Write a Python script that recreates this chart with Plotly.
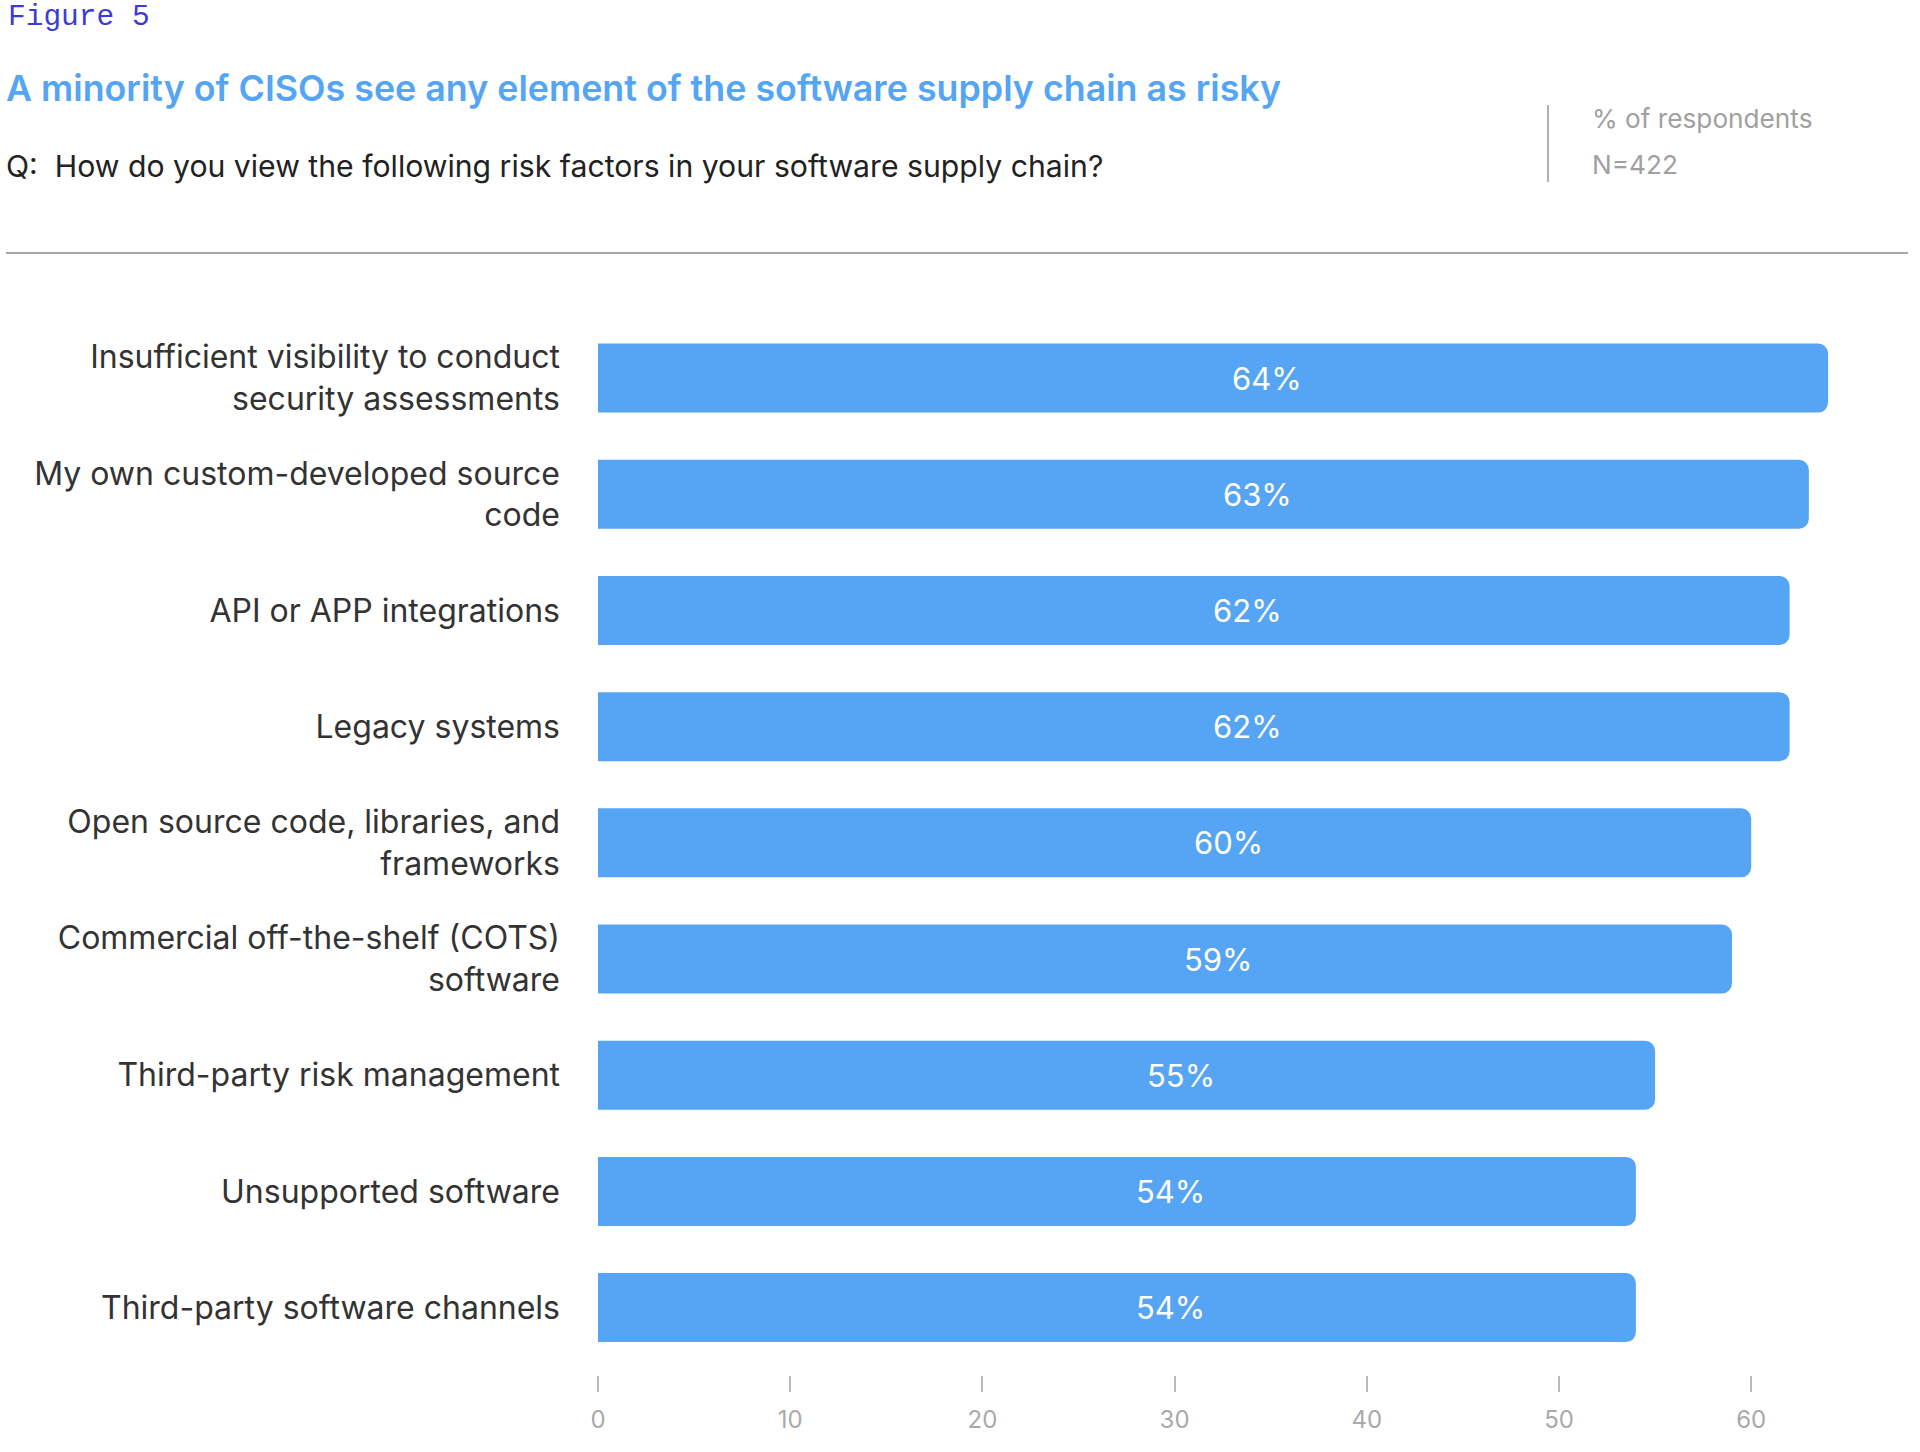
import plotly.graph_objects as go

categories = [
    "Insufficient visibility to conduct<br>security assessments",
    "My own custom-developed source<br>code",
    "API or APP integrations",
    "Legacy systems",
    "Open source code, libraries, and<br>frameworks",
    "Commercial off-the-shelf (COTS)<br>software",
    "Third-party risk management",
    "Unsupported software",
    "Third-party software channels",
]
values = [64, 63, 62, 62, 60, 59, 55, 54, 54]
x_ticks = [0, 10, 20, 30, 40, 50, 60]

W, H = 1920, 1452
ML, MR, MT, MB = 598, 20, 320, 77
PW, PH = W - ML - MR, H - MT - MB

def px(x):
    return (x - ML) / PW

def py(y):
    return (H - MB - y) / PH

BAR = "#56a5f5"
FONT = "Inter, 'Noto Sans', sans-serif"

fig = go.Figure()
fig.add_trace(go.Bar(
    x=values, y=categories, orientation="h",
    marker=dict(color=BAR, cornerradius=10, line=dict(width=0)),
    hoverinfo="skip",
))

annotations = []
for c, v in zip(categories, values):
    annotations.append(dict(
        x=v / 2, y=c, xref="x", yref="y", text=f"{v}%", showarrow=False,
        xshift=54, font=dict(family=FONT, size=31, color="white"),
        xanchor="center", yanchor="middle",
    ))

annotations += [
    dict(x=px(6), y=py(17), xref="paper", yref="paper", text="Figure 5",
         showarrow=False, xanchor="left", yanchor="middle",
         font=dict(family="'Liberation Mono', 'Courier New', monospace", size=29.5, color="#3b3bd8")),
    dict(x=px(4), y=py(88), xref="paper", yref="paper",
         text="A minority of CISOs see any element of the software supply chain as risky",
         showarrow=False, xanchor="left", yanchor="middle",
         font=dict(family=FONT, size=35.8, color="#55a5f5", weight=600)),
    dict(x=px(4), y=py(166), xref="paper", yref="paper",
         text="Q:  How do you view the following risk factors in your software supply chain?",
         showarrow=False, xanchor="left", yanchor="middle",
         font=dict(family=FONT, size=30.2, color="#222222")),
    dict(x=px(1590), y=py(118), xref="paper", yref="paper", text="% of respondents",
         showarrow=False, xanchor="left", yanchor="middle",
         font=dict(family=FONT, size=26.2, color="#a0a0a0")),
    dict(x=px(1590), y=py(164), xref="paper", yref="paper", text="N=422",
         showarrow=False, xanchor="left", yanchor="middle",
         font=dict(family=FONT, size=26.2, color="#a0a0a0")),
]

shapes = [
    dict(type="line", xref="paper", yref="paper", x0=px(1548), x1=px(1548),
         y0=py(105), y1=py(182), line=dict(color="#b0b0b0", width=2)),
    dict(type="line", xref="paper", yref="paper", x0=px(6), x1=px(1908),
         y0=py(253), y1=py(253), line=dict(color="#a8a8a8", width=2)),
]

fig.update_layout(
    width=W, height=H,
    margin=dict(l=ML, r=MR, t=MT, b=MB, pad=0),
    paper_bgcolor="white", plot_bgcolor="white",
    bargap=0.406,
    showlegend=False,
    annotations=annotations,
    shapes=shapes,
    font=dict(family=FONT),
    xaxis=dict(
        range=[0, PW / 19.22], showgrid=False, zeroline=False, showline=False,
        tickmode="array", tickvals=x_ticks, ticktext=[str(t) for t in x_ticks],
        ticks="outside", ticklen=16, tickwidth=1.5, tickcolor="#bbbbbb",
        ticklabelstandoff=7,
        tickfont=dict(family=FONT, size=24, color="#aaaaaa"),
        fixedrange=True,
    ),
    yaxis=dict(
        range=[8.58, -0.5], showgrid=False, zeroline=False, showline=False,
        ticks="", ticklabelstandoff=37,
        tickfont=dict(family=FONT, size=32, color="#333333"),
        fixedrange=True,
    ),
)

fig.write_html("out.html")
